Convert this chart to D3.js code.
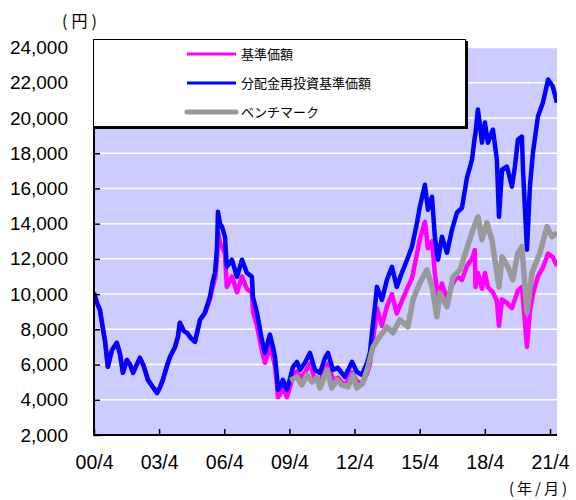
<!DOCTYPE html>
<html><head><meta charset="utf-8">
<script src="https://cdn.jsdelivr.net/npm/d3@7"></script>
<style>
html,body{margin:0;padding:0;background:#fff;}
svg{display:block;}
text{font-family:"Liberation Sans","Noto Sans CJK JP",sans-serif;fill:#000;}
.jp{font-family:"Noto Sans CJK JP",sans-serif;}
</style>
</head><body>
<svg id="c" width="576" height="500"></svg>
<script>
const fundDates = ["2000-04-01","2000-05-20","2000-07-10","2000-09-01","2000-10-05","2000-11-20","2001-01-28","2001-04-20","2001-06-12","2001-08-01","2001-10-06","2001-11-28","2002-01-18","2002-05-12","2002-07-18","2002-09-25","2002-12-01","2003-02-25","2003-04-15","2003-06-03","2003-08-10","2003-10-01","2003-12-25","2004-02-12","2004-03-15","2004-05-22","2004-07-12","2004-09-18","2004-11-25","2005-02-18","2005-05-10","2005-08-03","2005-09-25","2005-10-28","2005-12-01","2005-12-16","2006-01-20","2006-02-22","2006-04-12","2006-05-15","2006-08-08","2006-11-01","2007-01-25","2007-04-15","2007-07-10","2007-07-27","2007-10-03","2007-12-25","2008-02-15","2008-05-08","2008-06-28","2008-08-01","2008-09-04","2008-09-20","2008-10-25","2008-12-12","2009-02-18","2009-03-06","2009-06-01","2009-08-06","2009-09-25","2009-12-18","2010-03-12","2010-06-04","2010-08-28","2010-11-20","2011-01-10","2011-04-02","2011-06-25","2011-10-20","2012-02-18","2012-05-10","2012-08-03","2012-10-28","2012-12-15","2013-01-18","2013-03-10","2013-04-12","2013-07-05","2013-09-28","2013-12-20","2014-03-12","2014-06-05","2014-09-01","2014-11-22","2015-02-15","2015-04-04","2015-06-28","2015-08-18","2015-10-25","2015-12-12","2016-02-04","2016-04-10","2016-07-04","2016-09-25","2016-12-18","2017-03-12","2017-06-04","2017-08-28","2017-10-15","2017-10-25","2017-12-06","2018-02-12","2018-04-02","2018-05-22","2018-08-15","2018-10-20","2018-11-25","2019-01-15","2019-04-06","2019-07-01","2019-08-20","2019-10-10","2019-12-15","2020-01-03","2020-03-10","2020-04-28","2020-06-18","2020-09-10","2020-12-03","2021-02-28","2021-05-18","2021-07-28"];

const reinvestValues = [10070,9500,9100,7970,7300,5870,6830,7230,6600,5530,6260,6000,5530,6380,5900,5130,4800,4390,4700,5130,5900,6430,7000,7570,8370,7900,7800,7500,7290,8540,8940,9850,10800,11210,12690,14680,14000,13830,13260,11550,11950,10980,11950,11210,10980,9850,8940,7400,6660,7700,7000,6430,5300,4560,4730,5130,4560,4730,5870,6150,5700,6100,6660,5700,5520,6380,6660,5700,5810,5300,6150,5580,5410,6100,6660,7800,9280,10410,9670,10810,11550,10410,11210,11950,12690,14050,14960,16210,14790,15530,13260,11950,13260,12350,13650,14620,14900,16600,17630,18940,19100,20480,18600,19740,18600,19340,17630,14390,17060,17240,16100,17240,18770,18940,17060,12520,16100,18030,20080,20870,22180,21780,20870];

const navValues = [10070,9500,9100,7970,7300,5870,6830,7230,6600,5530,6260,6000,5530,6380,5900,5130,4800,4390,4700,5130,5900,6430,7000,7570,8370,7900,7800,7500,7290,8540,8900,9700,10500,10900,12000,13500,12900,12700,12300,10400,11000,10100,11000,10300,10100,9000,8200,6800,6100,7000,6400,5900,4850,4150,4300,4700,4150,4300,5350,5600,5200,5550,6050,5150,5000,5800,6050,5150,5250,4800,5550,5050,4900,5500,6000,7000,8200,9200,8200,9300,10000,8900,9600,10300,10900,12300,13100,14100,12600,13000,11200,9700,10600,9700,10500,11000,10800,11600,12000,12500,10400,11200,10300,11200,10400,10100,9600,8200,9700,9500,9200,9700,10200,10400,9700,7000,9000,10000,11000,11500,12300,12100,11600];

const benchDates = ["2009-04-15","2009-08-06","2009-10-28","2010-01-20","2010-04-15","2010-07-08","2010-08-28","2010-12-25","2011-03-15","2011-06-10","2011-09-01","2011-12-12","2012-03-04","2012-05-10","2012-08-18","2012-11-12","2013-02-05","2013-06-01","2013-09-28","2014-01-06","2014-05-02","2014-09-15","2014-12-08","2015-04-04","2015-08-01","2015-10-25","2016-01-16","2016-03-05","2016-07-04","2016-10-12","2017-02-08","2017-06-04","2017-09-12","2017-12-06","2018-02-12","2018-05-06","2018-07-28","2018-11-25","2019-01-15","2019-04-24","2019-07-15","2019-10-10","2019-12-15","2020-03-10","2020-06-01","2020-10-15","2021-02-10","2021-05-03","2021-07-28"];

const benchValues = [5100,5300,4840,5410,5010,5240,4670,5700,4670,5130,4840,4730,5410,4670,4950,5870,7000,7600,8140,7800,8540,8140,9670,10640,11380,10410,8710,10070,9280,10980,11380,12600,13650,14390,13090,14050,13090,10410,12120,11550,10810,12350,12690,8940,11210,12350,13830,13260,13490];

const xTickDates = ["2000-04-01","2003-04-01","2006-04-01","2009-04-01","2012-04-01","2015-04-01","2018-04-01","2021-04-01"];
const xTickLabels = ["00/4","03/4","06/4","09/4","12/4","15/4","18/4","21/4"];
const yTickValues = [2000,4000,6000,8000,10000,12000,14000,16000,18000,20000,22000,24000];
const seriesNames = ["基準価額","分配金再投資基準価額","ベンチマーク"];
const seriesColors = ["#FF00FF","#0000FF","#999999"];

const parse = d3.timeParse("%Y-%m-%d");
const svg = d3.select("#c");
const L = 94, R = 557, T = 47.5, B = 435;

const x = d3.scaleTime().domain([parse(xTickDates[0]), parse(xTickDates[xTickDates.length-1])]).range([94, 550]);
const y = d3.scaleLinear().domain([2000, 24000]).range([B, T]);

svg.append("rect").attr("x", L).attr("y", T).attr("width", R - L).attr("height", B - T).attr("fill", "#CCCCFF");

svg.append("g").selectAll("line").data(yTickValues.filter(v => v > 2000)).join("line")
  .attr("x1", L).attr("x2", R).attr("y1", d => y(d)).attr("y2", d => y(d))
  .attr("stroke", "#fff").attr("stroke-width", 1.5);

svg.append("clipPath").attr("id", "clip").append("rect")
  .attr("x", L).attr("y", T - 2).attr("width", R - L).attr("height", B - T + 2);

const fund = fundDates.map((d, i) => ({d: parse(d), nav: navValues[i], re: reinvestValues[i]}));
const bench = benchDates.map((d, i) => ({d: parse(d), v: benchValues[i]}));

const g = svg.append("g").attr("clip-path", "url(#clip)");
g.append("path").datum(fund).attr("fill", "none").attr("stroke", seriesColors[0]).attr("stroke-width", 4.5)
  .attr("stroke-linejoin", "round").attr("d", d3.line().x(p => x(p.d)).y(p => y(p.nav)));
g.append("path").datum(fund).attr("fill", "none").attr("stroke", seriesColors[1]).attr("stroke-width", 4.5)
  .attr("stroke-linejoin", "round").attr("d", d3.line().x(p => x(p.d)).y(p => y(p.re)));
g.append("path").datum(bench).attr("fill", "none").attr("stroke", seriesColors[2]).attr("stroke-width", 5.5)
  .attr("stroke-linejoin", "round").attr("d", d3.line().x(p => x(p.d)).y(p => y(p.v)));

const yAxis = d3.axisLeft(y).tickValues(yTickValues).tickFormat(d3.format(",")).tickSize(-6).tickSizeOuter(0).tickPadding(26);
const ya = svg.append("g").attr("transform", `translate(${L},0)`).call(yAxis);
ya.select(".domain").remove();
ya.selectAll("text").attr("font-size", 19).attr("font-family", "Liberation Sans, sans-serif");
ya.selectAll("line").attr("stroke", "#000").attr("stroke-width", 1.5);

const xAxis = d3.axisBottom(x).tickValues(xTickDates.map(parse)).tickFormat((d, i) => xTickLabels[i]).tickSize(-6).tickSizeOuter(0).tickPadding(20);
const xa = svg.append("g").attr("transform", `translate(0,${B})`).call(xAxis);
xa.select(".domain").remove();
xa.selectAll("text").attr("font-size", 19.5).attr("font-family", "Liberation Mono, monospace");
xa.selectAll("line").attr("stroke", "#000").attr("stroke-width", 1.5);

svg.append("line").attr("x1", L).attr("x2", L).attr("y1", T).attr("y2", B + 1).attr("stroke", "#000").attr("stroke-width", 2);
svg.append("line").attr("x1", L - 1).attr("x2", R).attr("y1", B).attr("y2", B).attr("stroke", "#000").attr("stroke-width", 2);

svg.append("text").attr("class", "jp").attr("x", 62).attr("y", 27).attr("font-size", 16).attr("letter-spacing", 4).text("(円)");
svg.append("text").attr("class", "jp").attr("x", 509).attr("y", 494).attr("font-size", 15).attr("letter-spacing", 3).text("(年/月)");

svg.append("rect").attr("x", 95).attr("y", 41).attr("width", 373).attr("height", 88).attr("fill", "#000");
svg.append("rect").attr("x", 93.5).attr("y", 39.5).attr("width", 372).attr("height", 87).attr("fill", "#fff").attr("stroke", "#000").attr("stroke-width", 1);
const ly = [54, 83, 112];
const lw = [3, 3, 5];
seriesNames.forEach((name, i) => {
  svg.append("line").attr("x1", 187).attr("x2", 236).attr("y1", ly[i]).attr("y2", ly[i])
    .attr("stroke", seriesColors[i]).attr("stroke-width", lw[i]).attr("stroke-linecap", i === 2 ? "round" : "butt");
  svg.append("text").attr("class", "jp").attr("x", 241).attr("y", ly[i]).attr("dy", "0.35em").attr("font-size", 13).text(name);
});
</script>
</body></html>
